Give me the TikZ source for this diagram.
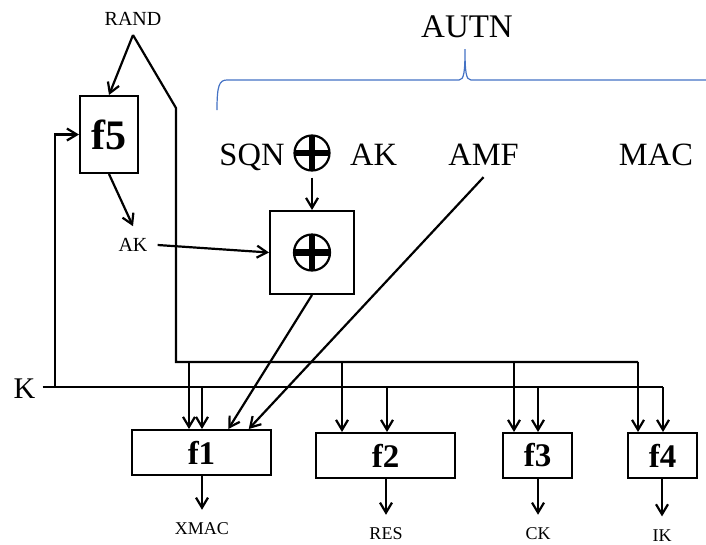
\documentclass[tikz,border=0pt]{standalone}
\usepackage{fontspec}
\setmainfont{Liberation Serif}
\usetikzlibrary{arrows.meta,calc}
\definecolor{braceblue}{RGB}{68,114,196}
\tikzset{
  ln/.style={line width=2.2pt},
  arr/.style={ln, -{Straight Barb[length=10pt,width=12pt]}},
  fbox/.style={draw, line width=2pt, inner sep=0pt, font=\fontsize{33}{35}\selectfont\bfseries},
  big/.style={font=\fontsize{32.5}{35}\selectfont, inner xsep=0pt, inner ysep=12pt, anchor=base},
  small/.style={font=\fontsize{20}{22}\selectfont, inner sep=0pt},
  outlbl/.style={font=\fontsize{18}{20}\selectfont, inner sep=0pt},
  outarr/.style={arr, shorten >=13pt},
  xorsym/.style={circle, draw, line width=2.2pt, inner sep=0pt,
    path picture={\draw[line width=6.5pt]
      (path picture bounding box.north) -- (path picture bounding box.south)
      (path picture bounding box.west) -- (path picture bounding box.east);}},
  bracestyle/.style={draw=braceblue, line width=1.2pt},
}
\begin{document}
\begin{tikzpicture}[x=1pt,y=-1pt]
\useasboundingbox (0,0) rectangle (706,544);

% labels
\node[small, anchor=base] (rand) at (133,25) {RAND};
\coordinate (apex) at (133,35);
\node[big, font=\fontsize{33}{35}\selectfont] (autn) at (467,37) {AUTN};
\node[big] (sqn) at (252,165) {SQN};
\node[xorsym, minimum size=35pt] (xs) at (312,153) {};
\node[big] (ak2) at (373.5,165) {AK};
\node[big] (amf) at (483.5,165) {AMF};
\node[big] (mac) at (656,165) {MAC};
\node[small, inner xsep=10pt, inner ysep=12pt] (ak1) at (133,245) {AK};
\node[font=\fontsize{30}{32}\selectfont, inner ysep=0pt, inner xsep=7pt, anchor=base] (K) at (24.5,398) {K};

% boxes
\node[fbox, minimum width=58pt, minimum height=77pt, font=\fontsize{42}{44}\selectfont\bfseries] (f5) at (109,134.5) {f5};
\node[draw, line width=2pt, minimum width=84pt, minimum height=83pt] (xorbox) at (312,252.5) {};
\node[xorsym, minimum size=36pt] (xin) at (xorbox.center) {};
\node[fbox, minimum width=139pt, minimum height=45pt] (f1) at (201.5,452.5) {f1};
\node[fbox, minimum width=139pt, minimum height=45pt] (f2) at (385.5,455.5) {f2};
\node[fbox, minimum width=69pt, minimum height=45pt] (f3) at (537.5,455.5) {f3};
\node[fbox, minimum width=69pt, minimum height=45pt] (f4) at (662.5,455.5) {f4};

% outputs
\node[outlbl] (xmac) at (202,529) {XMAC};
\node[outlbl] (res) at (386,534) {RES};
\node[outlbl] (ck) at (538,534) {CK};
\node[outlbl] (ik) at (662,535.5) {IK};

% brace
\path[bracestyle] (217,110) .. controls (217,86) and (219,80) .. (227,80) -- (459,80)
  .. controls (464,80) and (465,72) .. (465,49)
  .. controls (465,72) and (466,80) .. (471,80) -- (706,80);

% bus coordinates
\coordinate (ubA) at (176,108);
\coordinate (ubB) at (176,362);
\coordinate (u1) at (189,362);
\coordinate (u2) at (342,362);
\coordinate (u3) at (514,362);
\coordinate (u4) at (638,362);
\coordinate (kA) at (55,387);
\coordinate (k1) at (202,387);
\coordinate (k2) at (387,387);
\coordinate (k3) at (538,387);
\coordinate (k4) at (663,387);

% RAND connectors
\draw[arr] (apex) -- (f5.north);
\draw[ln] (apex) -- (ubA) -- (ubB) -- (u4);

% K bus
\draw[ln] (K.east |- kA) -- (k4);
\draw[arr] (kA) -- (kA |- f5.west) -- (f5.west);

% f5 / AK / xor
\draw[arr] (f5.south) -- (ak1.north);
\draw[arr] (ak1.east) -- (xorbox.west);
\draw[arr, shorten <=6pt] (xs.south) -- (xorbox.north);
\draw[arr] (xorbox.south) -- ($(f1.north west)!0.69!(f1.north east)$);
\draw[arr] (amf.south) -- ($(f1.north west)!0.835!(f1.north east)$);

% drops
\draw[arr] (u1) -- (u1 |- f1.north);
\draw[arr] (k1) -- (k1 |- f1.north);
\draw[arr] (u2) -- (u2 |- f2.north);
\draw[arr] (k2) -- (k2 |- f2.north);
\draw[arr] (u3) -- (u3 |- f3.north);
\draw[arr] (k3) -- (k3 |- f3.north);
\draw[arr] (u4) -- (u4 |- f4.north);
\draw[arr] (k4) -- (k4 |- f4.north);

% outputs
\draw[outarr] (xmac |- f1.south) -- (xmac.north);
\draw[outarr] (res |- f2.south) -- (res.north);
\draw[outarr] (ck |- f3.south) -- (ck.north);
\draw[outarr] (ik |- f4.south) -- (ik.north);
\end{tikzpicture}
\end{document}
